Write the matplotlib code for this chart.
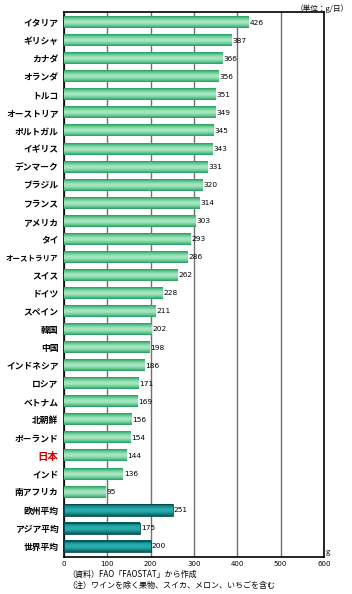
import numpy as np
import matplotlib
matplotlib.use("Agg")
from matplotlib import pyplot as plt
from matplotlib.colors import LinearSegmentedColormap

plt.rcParams['font.family'] = ['Noto Sans CJK JP', 'DejaVu Sans']

countries = ["イタリア", "ギリシャ", "カナダ", "オランダ", "トルコ", "オーストリア",
             "ポルトガル", "イギリス", "デンマーク", "ブラジル", "フランス", "アメリカ",
             "タイ", "オーストラリア", "スイス", "ドイツ", "スペイン", "韓国", "中国",
             "インドネシア", "ロシア", "ベトナム", "北朝鮮", "ポーランド", "日本",
             "インド", "南アフリカ", "欧州平均", "アジア平均", "世界平均"]
values = [426, 387, 366, 356, 351, 349, 345, 343, 331, 320, 314, 303, 293, 286,
          262, 228, 211, 202, 198, 186, 171, 169, 156, 154, 144, 136, 95,
          251, 175, 200]
averages = ["欧州平均", "アジア平均", "世界平均"]
x_ticks = [0, 100, 200, 300, 400, 500, 600]

green = LinearSegmentedColormap.from_list("g", ["#2a9a60", "#5cc68c", "#a8e6c2"])
teal = LinearSegmentedColormap.from_list("t", ["#005a5c", "#2ab0b0"])

fig = plt.figure(figsize=(3.52, 5.94), dpi=100)
ax = fig.add_axes([0.182, 0.0623, 0.738, 0.918])

h = 0.62
t = np.linspace(-1, 1, 40)
profile = (1 - np.abs(t) ** 1.6).reshape(-1, 1)

for i, (name, v) in enumerate(zip(countries, values)):
    cmap = teal if name in averages else green
    ax.imshow(profile, cmap=cmap, vmin=0, vmax=1, aspect='auto',
              extent=[0, v, i + h / 2, i - h / 2], zorder=3,
              interpolation='bilinear')
    if name in averages:
        ax.add_patch(plt.Rectangle((0, i - h / 2), v, h, fill=False,
                                   edgecolor='#004446', linewidth=0.6, zorder=4))
    ax.text(v + 2, i, str(v), fontsize=5.3, va='center', ha='left',
            family='DejaVu Sans', zorder=5)

ax.set_xlim(0, 600)
ax.set_ylim(len(countries) - 1 + 0.6, -0.6)
ax.set_yticks(range(len(countries)))
ax.set_yticklabels(countries, fontsize=6.3, fontweight='bold')
for lab in ax.get_yticklabels():
    if lab.get_text() == "日本":
        lab.set_color('#cc0000')
        lab.set_fontsize(7.5)
    if len(lab.get_text()) >= 7:
        lab.set_fontsize(5.4)
ax.set_xticks(x_ticks)
ax.set_xticklabels([str(x) for x in x_ticks], fontsize=5, family='DejaVu Sans')
ax.tick_params(length=0, pad=3)
ax.tick_params(axis='y', pad=4)
ax.grid(axis='x', color='#707070', linewidth=1, zorder=1)
for s in ax.spines.values():
    s.set_linewidth(1.2)
    s.set_color('black')

fig.text(0.99, 0.992, "（単位：g/日）", fontsize=5.5, ha='right', va='top')
fig.text(0.925, 0.064, "g", fontsize=5.5, ha='left', va='bottom')
fig.text(0.19, 0.033, "（資料）FAO「FAOSTAT」から作成", fontsize=5.8, ha='left', va='center')
fig.text(0.19, 0.014, "（注）ワインを除く果物、スイカ、メロン、いちごを含む", fontsize=5.8,
         ha='left', va='center')

fig.savefig("out.png", dpi=100)
